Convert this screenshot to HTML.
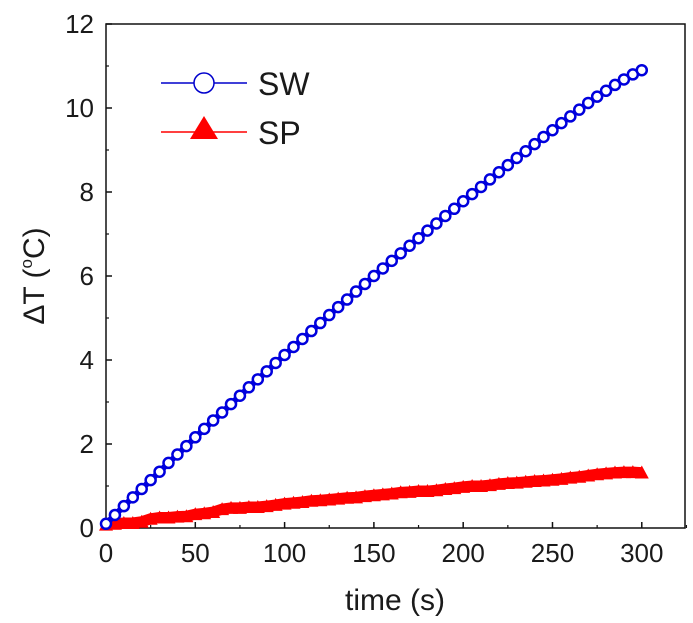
<!DOCTYPE html>
<html><head><meta charset="utf-8"><style>
body{margin:0;background:#fff}
svg{display:block;font-family:"Liberation Sans",Arial,sans-serif}
</style></head><body>
<svg id="chart" width="693" height="623">
<g id="axes"></g>
<g id="marks"></g>
<g>
 <g>
  <line x1="161" y1="83" x2="247" y2="83" stroke="#0000cc" stroke-width="1.5"/>
  <circle cx="204" cy="83" r="10" fill="#fff" stroke="#0000cc" stroke-width="1.5"/>
  <text x="258" y="95" font-size="32" fill="#1a1a1a">SW</text>
 </g>
 <g>
  <line x1="161" y1="132" x2="247" y2="132" stroke="red" stroke-width="1.5"/>
  <polygon points="190,139 218,139 204,116" fill="red"/>
  <text x="258" y="144" font-size="32" fill="#1a1a1a">SP</text>
 </g>
</g>
<text x="395" y="610" font-size="30" text-anchor="middle" fill="#1a1a1a">time (s)</text>
<text transform="translate(44,276) rotate(-90)" font-size="30" text-anchor="middle" fill="#1a1a1a">ΔT (<tspan font-size="17" dy="-12">o</tspan><tspan dy="12">C)</tspan></text>
</svg>
<script>
const times=[0,5,10,15,20,25,30,35,40,45,50,55,60,65,70,75,80,85,90,95,100,105,110,115,120,125,130,135,140,145,150,155,160,165,170,175,180,185,190,195,200,205,210,215,220,225,230,235,240,245,250,255,260,265,270,275,280,285,290,295,300];
const swValues=[0.1,0.31,0.52,0.73,0.93,1.14,1.34,1.55,1.75,1.95,2.16,2.36,2.56,2.75,2.95,3.15,3.35,3.54,3.73,3.93,4.12,4.31,4.5,4.69,4.88,5.07,5.26,5.44,5.63,5.81,6.0,6.18,6.36,6.54,6.72,6.9,7.08,7.25,7.43,7.6,7.78,7.95,8.12,8.3,8.47,8.64,8.81,8.97,9.14,9.31,9.47,9.64,9.8,9.96,10.12,10.27,10.41,10.55,10.68,10.8,10.9];
const spValues=[0.08,0.1,0.12,0.12,0.15,0.22,0.25,0.25,0.27,0.28,0.33,0.35,0.38,0.45,0.48,0.48,0.5,0.5,0.52,0.55,0.58,0.6,0.62,0.65,0.66,0.68,0.7,0.72,0.73,0.76,0.78,0.8,0.82,0.85,0.86,0.88,0.88,0.9,0.93,0.95,0.98,1.0,1.0,1.02,1.05,1.07,1.08,1.1,1.12,1.13,1.15,1.17,1.2,1.22,1.25,1.28,1.3,1.32,1.33,1.33,1.32];
const xTicks=[0,50,100,150,200,250,300];
const yTicks=[0,2,4,6,8,10,12];
const X0=106,X1=685,Y0=528,Y1=24,XMAX=324.2,YMAX=12;
function sx(v){return X0+v/XMAX*(X1-X0);}
function sy(v){return Y0-v/YMAX*(Y0-Y1);}
const NS="http://www.w3.org/2000/svg";
function mk(tag,attrs,parent){const e=document.createElementNS(NS,tag);for(const k in attrs)e.setAttribute(k,attrs[k]);parent.appendChild(e);return e;}
const axes=document.getElementById('axes'),marks=document.getElementById('marks');
const frame=mk('rect',{x:X0,y:Y1,width:X1-X0,height:Y0-Y1,fill:'none',stroke:'#111','stroke-width':1.5},axes);


xTicks.forEach(t=>{
  const l=mk('line',{x1:sx(t),x2:sx(t),y1:Y0,y2:Y0-6,stroke:'#111','stroke-width':1.5},axes);
  
  
  const m=mk('line',{x1:sx(t+25),x2:sx(t+25),y1:Y0,y2:Y0-3,stroke:'#111','stroke-width':1.2},axes);
  
  
  const tx=mk('text',{x:sx(t),y:Y0+34,'font-size':26,'text-anchor':'middle',fill:'#1a1a1a'},axes);
  tx.textContent=t;
  
  
});
yTicks.forEach(t=>{
  const l=mk('line',{x1:X0,x2:X0+6,y1:sy(t),y2:sy(t),stroke:'#111','stroke-width':1.5},axes);
  
  
  if(t<12){const m=mk('line',{x1:X0,x2:X0+3,y1:sy(t+1),y2:sy(t+1),stroke:'#111','stroke-width':1.2},axes);
  
  }
  const tx=mk('text',{x:X0-12,y:sy(t)+9,'font-size':26,'text-anchor':'end',fill:'#1a1a1a'},axes);
  tx.textContent=t;
  
  
});
// SP series
const spLine=mk('polyline',{points:times.map((t,i)=>sx(t)+','+sy(spValues[i])).join(' '),fill:'none',stroke:'red','stroke-width':11},marks);


times.forEach((t,i)=>{
  const x=sx(t),y=sy(spValues[i]);
  const p=mk('polygon',{points:(x-7)+','+(y+6)+' '+(x+7)+','+(y+6)+' '+x+','+(y-7),fill:'red'},marks);
  
  
});
// SW series
const swLine=mk('polyline',{points:times.map((t,i)=>sx(t)+','+sy(swValues[i])).join(' '),fill:'none',stroke:'#0000dd','stroke-width':6},marks);


times.forEach((t,i)=>{
  const c=mk('circle',{cx:sx(t),cy:sy(swValues[i]),r:5,fill:'#fff',stroke:'#0000dd','stroke-width':2.5},marks);
  
  
});
</script>
</body></html>
